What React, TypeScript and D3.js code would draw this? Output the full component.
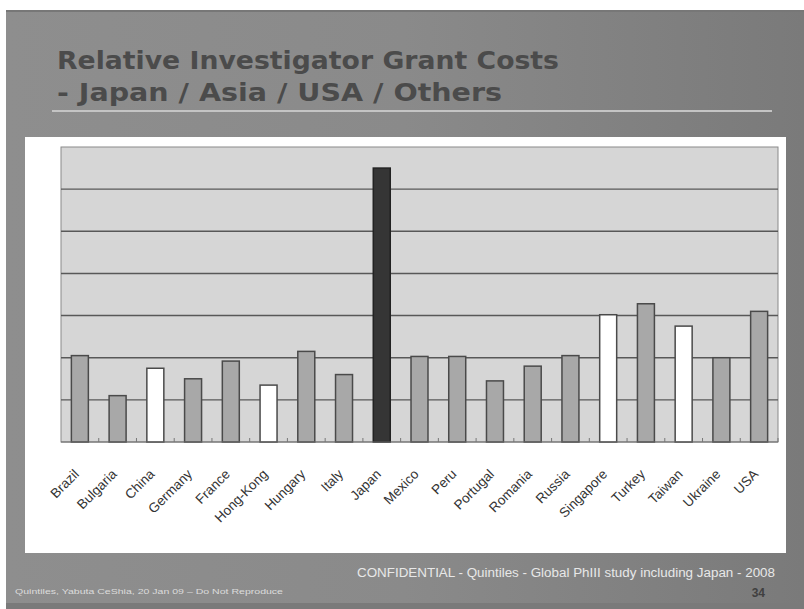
import React, { useEffect } from "react";
import * as d3 from "d3";

const countries = ["Brazil","Bulgaria","China","Germany","France","Hong-Kong","Hungary","Italy","Japan","Mexico","Peru","Portugal","Romania","Russia","Singapore","Turkey","Taiwan","Ukraine","USA"];
const costs = [2.05,1.1,1.75,1.5,1.92,1.35,2.15,1.6,6.5,2.03,2.03,1.45,1.8,2.05,3.02,3.28,2.75,2.0,3.1];
const groups = ["other","other","asia","other","other","asia","other","other","japan","other","other","other","other","other","asia","other","asia","other","other"];
const yTicks = [0,1,2,3,4,5,6,7];

const titleLine1 = "Relative Investigator Grant Costs";
const titleLine2 = "- Japan / Asia / USA / Others";
const footerMain = "CONFIDENTIAL - Quintiles - Global PhIII study including Japan - 2008";
const footerLeft = "Quintiles, Yabuta CeShia, 20 Jan 09 \u2013 Do Not Reproduce";
const pageNo = "34";

const W = 804, H = 609;
const plot = { left: 61, right: 778, top: 147, bottom: 442 };

export default function App() {
  useEffect(() => {
    document.body.style.margin = "0";
  }, []);

  const x = d3.scaleBand<string>().domain(countries).range([plot.left, plot.right]).paddingInner(0.55).paddingOuter(0.275);
  const y = d3.scaleLinear().domain([0, 7]).range([plot.bottom, plot.top]);
  const step = x.step();
  const fillOf = (g: string) => (g === "japan" ? "#353535" : g === "asia" ? "#ffffff" : "#a8a8a8");
  const strokeOf = (g: string) => (g === "japan" ? "#222" : "#4a4a4a");

  return (
    <svg width={W} height={H} style={{ display: "block", position: "absolute", left: 0, top: 0 }}>
      <defs>
        <linearGradient id="bg" x1="0" x2="1" y1="0" y2="0">
          <stop offset="0" stopColor="#8e8e8e" />
          <stop offset="0.5" stopColor="#8a8a8a" />
          <stop offset="1" stopColor="#7a7a7a" />
        </linearGradient>
      </defs>
      <rect x={0} y={0} width={W} height={H} fill="#ffffff" />
      <rect x={6} y={10} width={W - 6} height={H - 10} fill="url(#bg)" />
      <rect x={6} y={10} width={W - 6} height={2} fill="#777" />
      <rect x={6} y={603} width={W - 6} height={6} fill="#7a7a7a" />

      {/* title */}
      <text x={57} y={69} fontFamily="'DejaVu Sans', Verdana, sans-serif" fontWeight="bold" fontSize={25} fill="#4b4b4b" textLength={502} lengthAdjust="spacingAndGlyphs">{titleLine1}</text>
      <text x={57} y={101} fontFamily="'DejaVu Sans', Verdana, sans-serif" fontWeight="bold" fontSize={25} fill="#4b4b4b" textLength={445} lengthAdjust="spacingAndGlyphs">{titleLine2}</text>
      <line x1={52} x2={772} y1={111} y2={111} stroke="#c4c4c4" strokeWidth={2} />

      {/* white panel */}
      <rect x={25} y={137} width={761} height={416} fill="#ffffff" />

      {/* plot area */}
      <rect x={plot.left} y={plot.top} width={plot.right - plot.left} height={plot.bottom - plot.top} fill="#d6d6d6" stroke="#8a8a8a" strokeWidth={1} />
      {yTicks.slice(1, -1).map((t) => (
        <line key={t} x1={plot.left} x2={plot.right} y1={y(t)} y2={y(t)} stroke="#585858" strokeWidth={1.4} />
      ))}

      {countries.map((c, i) => (
        <rect key={c} x={x(c)} y={y(costs[i])} width={x.bandwidth()} height={y(0) - y(costs[i])}
          fill={fillOf(groups[i])} stroke={strokeOf(groups[i])} strokeWidth={1.5} />
      ))}

      <line x1={plot.left} x2={plot.right} y1={y(0)} y2={y(0)} stroke="#6a6a6a" strokeWidth={1.2} />
      {countries.map((c, i) => (
        <line key={"t" + c} x1={plot.left + step * (i + 1)} x2={plot.left + step * (i + 1)} y1={y(0)} y2={y(0) - 4} stroke="#777" strokeWidth={1} />
      ))}

      {countries.map((c) => {
        const cx = (x(c) as number) + x.bandwidth() / 2;
        return (
          <text key={"l" + c} transform={`translate(${cx},${475}) rotate(-45)`} textAnchor="end"
            fontFamily="'Liberation Sans', Arial, sans-serif" fontSize={13.5} fill="#333">{c}</text>
        );
      })}

      {/* footer */}
      <text x={357} y={577} fontFamily="'Liberation Sans', Arial, sans-serif" fontSize={12} fill="#e8e8e8" textLength={418} lengthAdjust="spacingAndGlyphs">{footerMain}</text>
      <text x={765} y={597} textAnchor="end" fontFamily="'Liberation Sans', Arial, sans-serif" fontWeight="bold" fontSize={12} fill="#404040">{pageNo}</text>
      <text x={15} y={594} fontFamily="'Liberation Sans', Arial, sans-serif" fontSize={7.5} fill="#dcdcdc" textLength={268} lengthAdjust="spacingAndGlyphs">{footerLeft}</text>
    </svg>
  );
}
